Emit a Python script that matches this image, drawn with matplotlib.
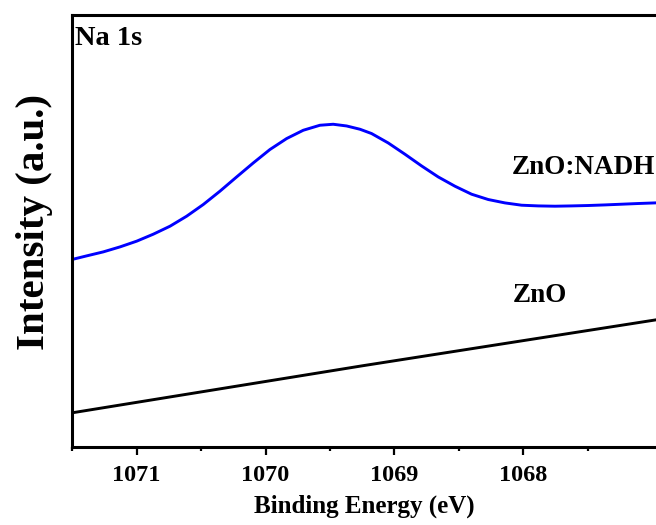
import numpy as np
import matplotlib
matplotlib.use("Agg")
import matplotlib.pyplot as plt
from matplotlib.ticker import MultipleLocator

plt.rcParams['font.family'] = ['Liberation Serif', 'DejaVu Serif']
plt.rcParams['font.weight'] = 'bold'

# binding energy (eV) and intensity (a.u.)
be_nadh = [1071.492, 1071.388, 1071.259, 1071.129, 1071.000, 1070.871, 1070.741, 1070.612,
           1070.483, 1070.354, 1070.224, 1070.095, 1069.966, 1069.836, 1069.707, 1069.578,
           1069.475, 1069.371, 1069.267, 1069.177, 1069.048, 1068.918, 1068.789, 1068.660,
           1068.530, 1068.401, 1068.272, 1068.142, 1068.013, 1067.884, 1067.754, 1067.625,
           1067.496, 1067.366, 1067.237, 1067.108, 1066.979]
int_nadh = [187.7, 191.0, 195.0, 200.0, 205.7, 212.7, 220.7, 230.7,
            242.4, 255.7, 270.0, 284.0, 297.4, 308.4, 316.7, 321.7,
            322.7, 321.0, 317.7, 313.4, 304.0, 292.7, 281.0, 270.0,
            260.7, 252.7, 247.4, 244.0, 241.7, 241.0, 240.7, 241.0,
            241.4, 242.0, 242.7, 243.4, 244.0]

be_zno = [1071.5, 1069.25, 1066.97]
int_zno = [34, 81, 127]

fig = plt.figure(figsize=(6.56, 5.25), dpi=100)
ax = fig.add_axes([0.1093, 0.149, 0.8907, 0.8224])

ax.plot(be_nadh, int_nadh, color='#0000ff', lw=2.1)
ax.plot(be_zno, int_zno, color='black', lw=2.1)

ax.set_xlim(1071.504, 1066.97)
ax.set_ylim(0, 432)
ax.set_xticks([1071, 1070, 1069, 1068])
ax.set_xticks([1071.5, 1070.5, 1069.5, 1068.5, 1067.5], minor=True)
ax.set_yticks([])
ax.spines['right'].set_visible(False)
for s in ['left', 'top', 'bottom']:
    ax.spines[s].set_linewidth(2.2)
ax.tick_params(axis='x', which='major', length=6, width=1.6, labelsize=17.5, pad=7)
ax.tick_params(axis='x', which='minor', length=3, width=1.6)
for lab in ax.get_xticklabels():
    lab.set_fontweight('bold')

ax.set_xlabel('Binding Energy (eV)', fontsize=18, fontweight='bold', labelpad=6)
ax.set_ylabel('Intensity (a.u.)', fontsize=29.5, fontweight='bold')
ax.yaxis.set_label_coords(-0.032, 0.52)

ax.text(0.006, 0.975, 'Na 1s', transform=ax.transAxes, fontsize=20.5,
        fontweight='bold', va='top', ha='left')
ax.text(1068.09, 279, 'ZnO:NADH', fontsize=19.5, fontweight='bold', va='center', ha='left')
ax.text(1068.08, 151, 'ZnO', fontsize=19.5, fontweight='bold', va='center', ha='left')

fig.savefig('out.png', dpi=100)
